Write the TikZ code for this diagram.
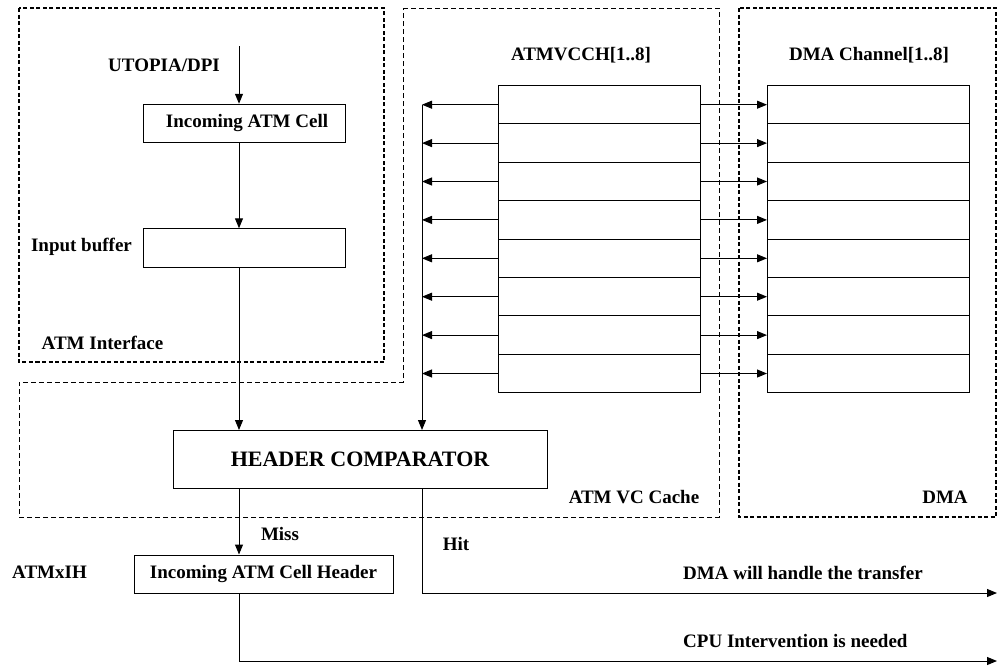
\documentclass[tikz,border=0pt]{standalone}
\usepackage{fontspec}
\setmainfont{Liberation Serif}
\usetikzlibrary{arrows.meta}
\begin{document}
\begin{tikzpicture}[x=1pt,y=-1pt,
  every node/.style={font=\fontsize{19}{22}\selectfont\bfseries, inner sep=0pt},
  box/.style={draw, line width=1pt, minimum width=202pt, minimum height=38.5pt},
  cell/.style={draw, line width=1pt, minimum width=202pt, minimum height=38.4pt, anchor=north west},
  arr/.style={line width=1pt, -{Triangle[length=10pt,width=8pt]}},
  ln/.style={line width=1pt},
  thickdash/.style={line width=1.5pt, dash pattern=on 4pt off 2.5pt},
  thindash/.style={line width=0.8pt, dash pattern=on 5pt off 3pt}]
\useasboundingbox (0,0) rectangle (998,667);
\coordinate (colx) at (239,0);
\coordinate (bus) at (422,0);
\coordinate (utop) at (239,46);
\coordinate (hitEnd) at (997,593);
\coordinate (cpuEnd) at (997,661);

% group frames
\draw[thickdash] (19,8) rectangle (384,362);
\draw[thindash] (403,8) -- (719,8) -- (719,517) -- (19,517) -- (19,382) -- (403,382) -- cycle;
\draw[thickdash] (739,8) rectangle (996,517);

% ATM interface
\node (utopia) at (164,65) {UTOPIA/DPI};
\node[box] (cell) at (244,123.5) {\hspace*{6pt}Incoming ATM Cell};
\node[box] (ib) at (244,248) {};
\node (iblab) at (81.5,247) {Input buffer};
\node (ailab) at (102.5,343) {ATM Interface};
\draw[arr] (utop) -- (cell.north -| colx);
\draw[arr] (cell.south -| colx) -- (ib.north -| colx);

% ATMVCCH and DMA channels
\node (vtitle) at (581,55) {ATMVCCH[1..8]};
\node (dtitle) at (869,55) {DMA Channel[1..8]};
\foreach \i in {1,...,8} {
  \node[cell] (v\i) at (498,{85+(\i-1)*38.4}) {};
  \node[cell] (d\i) at (767,{85+(\i-1)*38.4}) {};
  \draw[arr] (v\i.west) -- (v\i.west -| bus);
  \draw[arr] (v\i.east) -- (d\i.west);
}

% header comparator
\node[draw, line width=1pt, minimum width=374pt, minimum height=58pt,
      font=\fontsize{22}{26}\selectfont\bfseries] (hc) at (360,459.5) {HEADER COMPARATOR};
\draw[arr] (ib.south -| colx) -- (hc.north -| colx);
\draw[arr] (bus |- v1.west) -- (hc.north -| bus);
\node (vclab) at (634,497) {ATM VC Cache};
\node (dmalab) at (945,497) {DMA};

% outputs
\node[draw, line width=1pt, minimum width=259pt, minimum height=38pt] (ih) at (263.5,574) {Incoming ATM Cell Header};
\node (ihlab) at (49.5,572) {ATMxIH};
\draw[arr] (hc.south -| colx) -- (ih.north -| colx);
\node (miss) at (280,534) {Miss};
\node (hit) at (456,544) {Hit};
\draw[arr] (hc.south -| bus) -- (bus |- hitEnd) -- (hitEnd);
\draw[arr] (ih.south -| colx) -- (colx |- cpuEnd) -- (cpuEnd);
\node[anchor=west] (dmat) at (683,573) {DMA will handle the transfer};
\node[anchor=west] (cpun) at (683,641) {CPU Intervention is needed};
\end{tikzpicture}
\end{document}
